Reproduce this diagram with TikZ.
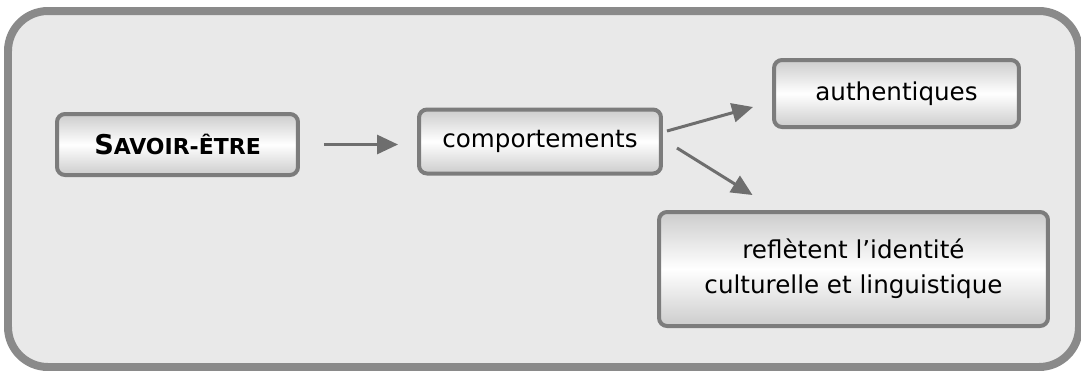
\documentclass[tikz,border=0pt]{standalone}
\usepackage{fontspec}
\setmainfont{DejaVu Sans}
\usepackage{tikz}
\usetikzlibrary{arrows.meta}

\definecolor{framegray}{HTML}{8A8A8A}
\definecolor{panelgray}{HTML}{E9E9E9}
\definecolor{boxline}{HTML}{7C7C7C}
\definecolor{arrowgray}{HTML}{6E6E6E}

\begin{document}
\begin{tikzpicture}[x=0.02cm,y=-0.02cm,
    concept/.style={draw=boxline, line width=0.08cm, rounded corners=0.16cm,
        top color=black!20, bottom color=black!20, middle color=white,
        align=center, font=\fontsize{14}{20}\selectfont, inner sep=0pt},
    link/.style={draw=arrowgray, line width=0.06cm,
        -{Triangle[length=0.42cm,width=0.38cm]}}]

\useasboundingbox (0,0) rectangle (1081,370);
\begin{scope}
\clip (0,0) rectangle (1081,370);
\draw[draw=framegray, fill=panelgray, line width=0.16cm, rounded corners=0.8cm] (8,11) rectangle (1079,367);
\end{scope}

\node[concept, minimum width=4.82cm, minimum height=1.22cm] (savoir) at (177.5,144.5) {\textbf{{\fontsize{15.5}{19}\selectfont S}{\fontsize{12.5}{15}\selectfont AVOIR-ÊTRE}}};
\node[concept, minimum width=4.84cm, minimum height=1.28cm] (comp) at (540,141.5) {comportements};
\node[concept, minimum width=4.9cm, minimum height=1.34cm] (auth) at (896.5,93.5) {authentiques};
\node[concept, minimum width=7.78cm, minimum height=2.28cm] (refl) at (853.5,269) {reflètent l’identité\\culturelle et linguistique};

% liens
\draw[link, shorten <=0.48cm, shorten >=0.38cm] (savoir.east) -- (savoir.east -| comp.west);
\draw[link] ([xshift=0.08cm,yshift=0.21cm]comp.east) -- ([xshift=-0.38cm,yshift=-0.27cm]auth.west);
\draw[link] ([xshift=0.28cm,yshift=-0.13cm]comp.east) -- ([xshift=-2.02cm,yshift=0.3cm]refl.north);

\end{tikzpicture}
\end{document}
